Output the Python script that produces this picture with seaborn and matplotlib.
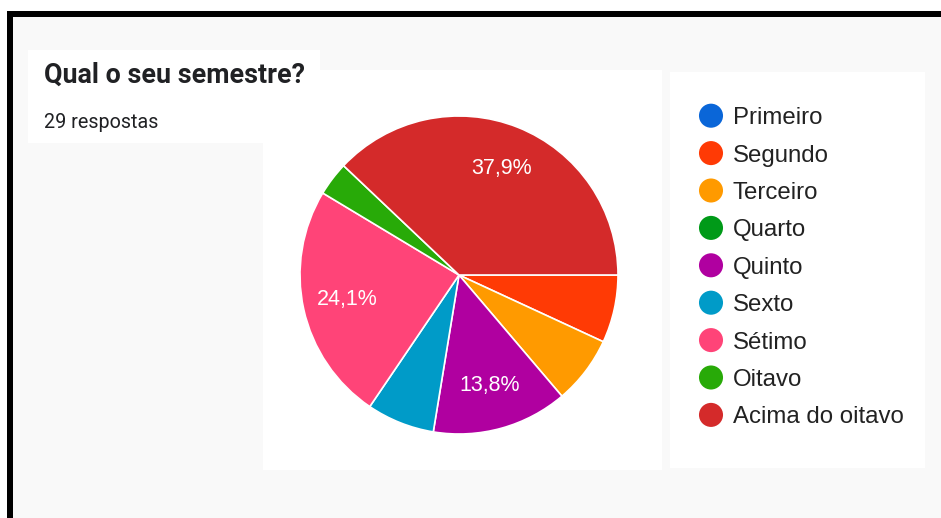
import matplotlib
matplotlib.use("Agg")
import matplotlib.pyplot as plt
from matplotlib.patches import Rectangle
import seaborn as sns

# Survey answers: "Qual o seu semestre?" (29 respostas)
categories = ["Primeiro", "Segundo", "Terceiro", "Quarto", "Quinto",
              "Sexto", "Sétimo", "Oitavo", "Acima do oitavo"]
counts = [0, 2, 2, 0, 4, 2, 7, 1, 11]
colors = ["#0a66d8", "#ff3a05", "#ff9a00", "#009a18", "#b000a0",
          "#009bc8", "#ff4478", "#28aa08", "#d42a2a"]
title = "Qual o seu semestre?"
subtitle = "29 respostas"

sns.set_theme(style="white")
plt.rcParams["font.family"] = ["Liberation Sans", "DejaVu Sans"]

W, H = 941, 518
fig = plt.figure(figsize=(W / 100, H / 100), dpi=100)
fig.patch.set_facecolor("white")

# Background canvas in pixel coordinates
bg = fig.add_axes([0, 0, 1, 1])

def box(x0, y0, x1, y1, color):
    bg.add_patch(Rectangle((x0, y0), x1 - x0, y1 - y0, facecolor=color,
                           edgecolor="none", zorder=1))

box(13, 17, W, H, "#f9f9f9")          # page background
box(7, 11, W, 17, "black")            # frame, top
box(7, 11, 13, H, "black")            # frame, left
box(28, 50, 320, 143, "white")        # title card
box(263, 70, 662, 470, "white")       # chart card
box(670, 72, 925, 468, "white")       # legend card

bg.text(44, 83, title, family=["Roboto", "DejaVu Sans"], fontweight="bold",
        fontsize=19.4, color="#202124", va="baseline", ha="left", zorder=3)
bg.text(44, 128, subtitle, family=["Roboto", "DejaVu Sans"],
        fontsize=14.2, color="#202124", va="baseline", ha="left", zorder=3)

# Legend: one coloured dot and label per category
leg_x, leg_top, leg_step = 711, 115.7, 37.4
leg_y = [leg_top + i * leg_step for i in range(len(categories))]
sns.scatterplot(x=[leg_x] * len(categories), y=leg_y, hue=categories,
                palette=colors, s=300, linewidth=0, legend=False, ax=bg,
                zorder=3)
bg.set_xlim(0, W)
bg.set_ylim(H, 0)
bg.axis("off")
for y, name in zip(leg_y, categories):
    bg.text(733, y, name, fontsize=17.3, color="#222222",
            va="center_baseline", ha="left", zorder=3)

# Pie chart, clockwise from 3 o'clock
cx, cy, r = 459, 275, 159
pie_ax = fig.add_axes([(cx - r) / W, (H - cy - r) / H, 2 * r / W, 2 * r / H])
pie_ax.set_zorder(5)
pie_ax.patch.set_alpha(0)

shown = [(v, c) for v, c in zip(counts, colors) if v > 0]
vals = [v for v, _ in shown]
cols = [c for _, c in shown]

def fmt(p):
    return (f"{p:.1f}%".replace(".", ",")) if p >= 10 else ""

wedges, _, autotexts = pie_ax.pie(
    vals, colors=cols, startangle=0, counterclock=False,
    autopct=fmt, pctdistance=0.72,
    wedgeprops=dict(edgecolor="white", linewidth=1.2),
    textprops=dict(color="white", fontsize=15.5))
pie_ax.set_xlim(-1, 1)
pie_ax.set_ylim(-1, 1)
pie_ax.set_aspect("equal")
pie_ax.axis("off")

fig.savefig("out.png", dpi=100, facecolor=fig.get_facecolor())
